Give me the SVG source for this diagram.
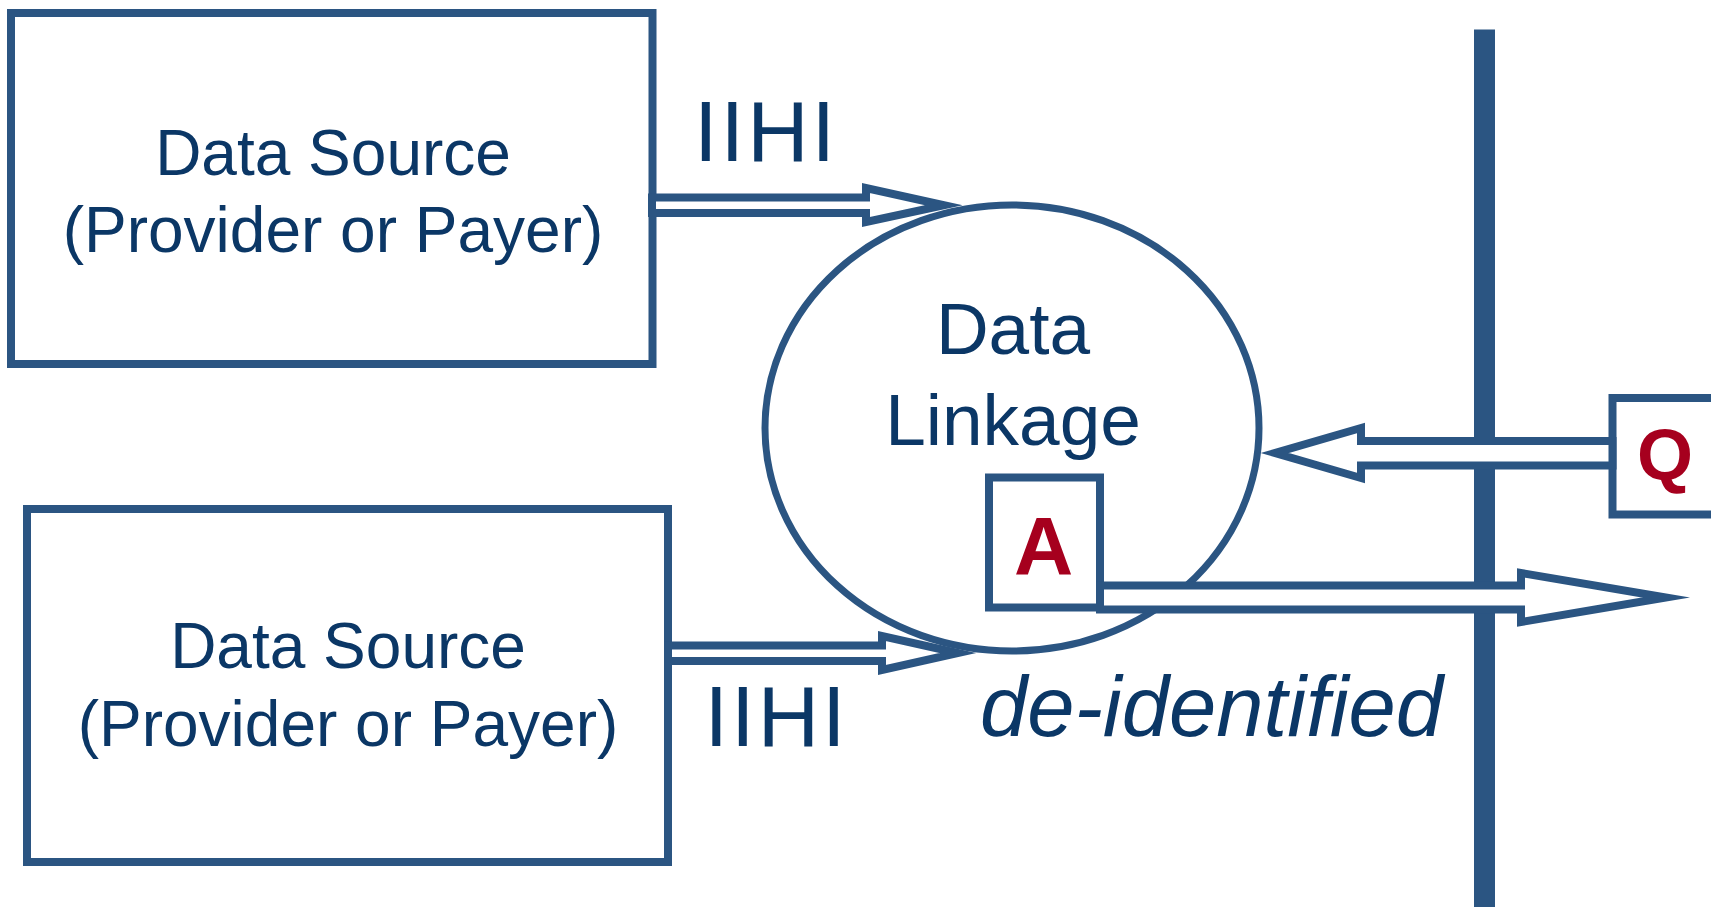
<svg xmlns="http://www.w3.org/2000/svg" width="1711" height="907" viewBox="0 0 1711 907">
  <style>
    .shape { fill: #ffffff; stroke: #2B5582; stroke-width: 8; }
    .oval { fill: #ffffff; stroke: #2B5582; stroke-width: 7; }
    .arrow { fill: #ffffff; stroke: #2B5582; stroke-width: 8; stroke-linejoin: miter; stroke-miterlimit: 12; }
    .label { font-family: "Liberation Sans", Arial, sans-serif; fill: #0B3766; }
    .src { font-size: 64px; text-anchor: middle; }
    .link { font-size: 73px; text-anchor: middle; }
    .tag { font-size: 85px; letter-spacing: 3px; }
    .note { font-size: 85px; font-style: italic; }
    .mark { font-family: "Liberation Sans", Arial, sans-serif; font-weight: bold; fill: #A6001E; text-anchor: middle; }
  </style>

  <!-- boundary bar -->
  <rect id="boundary" x="1474" y="29.5" width="21" height="878" fill="#2B5582"/>

  <g id="source-top">
    <rect class="shape" x="11" y="13" width="641.5" height="351"/>
    <text class="label src" x="333" y="175">Data Source</text>
    <text class="label src" x="333" y="252">(Provider or Payer)</text>
  </g>

  <g id="source-bottom">
    <rect class="shape" x="27" y="509" width="641" height="353"/>
    <text class="label src" x="348" y="668">Data Source</text>
    <text class="label src" x="348" y="746">(Provider or Payer)</text>
  </g>

  <g id="linkage">
    <ellipse class="oval" cx="1012" cy="428" rx="247" ry="223"/>
    <text class="label link" x="1013" y="354">Data</text>
    <text class="label link" x="1013" y="445">Linkage</text>
  </g>

  <g id="box-a">
    <rect class="shape" x="989" y="477.5" width="111" height="130"/>
    <text class="mark" x="1043.5" y="574" font-size="82">A</text>
  </g>

  <g id="box-q">
    <rect class="shape" x="1612.5" y="398" width="110" height="116.5"/>
    <text class="mark" x="1665" y="480" font-size="72">Q</text>
  </g>

  <!-- flows between nodes -->
  <g id="connectors">
    <polygon class="arrow" points="652,197.5 866,197.5 866,188 944,205.25 866,222 866,213 652,213"/>
    <polygon class="arrow" points="668,645.5 882,645.5 882,636 958,653 882,670 882,661 668,661"/>
    <polygon class="arrow" points="1612.5,441 1361,441 1361,428 1275,453 1361,478 1361,465.5 1612.5,465.5"/>
    <polygon class="arrow" points="1100,585.5 1521,585.5 1521,573 1666,597.5 1521,622 1521,609.5 1100,609.5"/>
  </g>

  <g id="flow-labels">
    <text class="label tag" x="694" y="161">IIHI</text>
    <text class="label tag" x="704.5" y="746">IIHI</text>
    <text class="label note" x="980" y="736">de-identified</text>
  </g>
</svg>
